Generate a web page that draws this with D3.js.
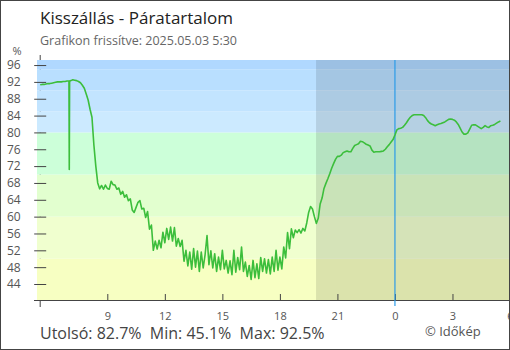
<!DOCTYPE html>
<html><head><meta charset="utf-8">
<script src="https://cdn.jsdelivr.net/npm/d3@7"></script>
<style>
body{margin:0;background:#fff}
svg{display:block;font-family:"Open Sans",sans-serif}
</style></head><body>
<svg id="chart" width="510" height="350"></svg>
<script>
// relative humidity (%), one reading every 6 minutes, 2025.05.02 5:30 -> 2025.05.03 5:30
const humidity = [
  91.3,91.4,91.4,91.5,91.6,91.6,91.7,91.8,91.9,92.0,92.0,92.0,92.1,92.1,92.2,92.2,92.3,92.5,92.4,92.3,
  92.1,91.8,91.2,90.5,89.1,87.7,85.5,83.6,77.0,72.0,68.0,66.6,67.4,66.5,67.5,66.7,66.5,68.4,67.6,67.5,
  66.5,66.8,65.3,66.0,64.6,65.2,63.8,64.2,61.6,61.0,62.2,63.4,63.8,61.8,62.0,59.8,61.2,57.0,58.0,52.0,
  54.2,52.3,54.4,52.6,56.3,53.8,57.2,54.6,57.5,54.2,57.4,53.0,54.8,52.9,54.4,49.4,52.0,48.3,51.6,47.5,
  52.4,48.0,51.8,47.0,51.6,47.8,51.0,55.5,48.6,51.9,47.8,51.2,47.0,50.4,47.4,52.0,47.6,49.6,46.6,49.5,
  46.2,52.0,46.8,50.3,47.4,52.8,47.0,49.2,45.8,48.4,45.1,49.6,45.5,48.8,45.3,50.3,47.0,50.0,46.6,49.8,
  46.4,50.4,47.0,52.0,47.3,50.4,47.6,52.8,50.2,56.2,52.4,57.1,55.0,56.8,56.2,56.9,56.1,57.2,56.6,58.5,
  61.0,62.4,61.8,60.0,58.4,59.6,63.0,64.4,66.7,67.9,69.0,70.2,71.5,72.6,73.6,74.3,74.3,74.6,75.2,75.4,
  75.6,75.4,75.4,76.2,76.9,77.1,77.3,77.9,77.8,77.5,77.2,77.0,76.8,75.8,75.3,75.4,75.4,75.4,75.5,75.6,
  76.0,76.6,77.1,77.7,78.3,79.4,80.6,80.9,81.0,81.2,81.7,82.3,83.0,83.6,84.0,84.2,84.2,84.2,84.2,84.2,
  84.0,83.5,82.8,82.3,82.0,81.8,81.6,81.8,82.0,82.1,82.3,82.5,82.8,83.1,83.2,83.1,82.9,82.5,81.9,81.0,
  80.1,79.6,79.6,79.9,80.8,81.7,81.8,81.8,81.5,81.2,80.9,81.2,81.6,81.3,81.2,81.6,81.7,81.9,82.2,82.5,
  82.7
];
const startTime = new Date(2025, 4, 2, 5, 30);
const stepMinutes = 6;
// short sensor glitch between the regular readings
const glitchTimes = [new Date(2025, 4, 2, 7, 1), new Date(2025, 4, 2, 7, 2)];
const glitchValues = [71.2, 92.2];
const xTickTimes = [
  new Date(2025, 4, 2, 9), new Date(2025, 4, 2, 12), new Date(2025, 4, 2, 15),
  new Date(2025, 4, 2, 18), new Date(2025, 4, 2, 21), new Date(2025, 4, 3, 0),
  new Date(2025, 4, 3, 3), new Date(2025, 4, 3, 6)
];
const yTicks = [44, 48, 52, 56, 60, 64, 68, 72, 76, 80, 84, 88, 92, 96];
const bandEdges = [40, 50, 60, 70, 80, 85, 90, 95, 100];
const bandColors = ["#f7ffc2", "#f0ffcf", "#e2ffcf", "#ccffd9", "#cceaff", "#c2e4ff", "#b9dfff", "#b0d8ff"];
const nightStart = new Date(2025, 4, 2, 19, 53);
const midnight = new Date(2025, 4, 3, 0, 0);

var data = humidity.map((v, i) => ({t: d3.timeMinute.offset(startTime, i * stepMinutes), v: v}));
glitchTimes.forEach((t, i) => data.push({t: t, v: glitchValues[i]}));
data.sort((a, b) => a.t - b.t);

var plot = {left: 37, right: 510, top: 60, bottom: 300};

var x = d3.scaleTime()
  .domain([new Date(2025, 4, 2, 5, 20), new Date(2025, 4, 3, 6, 0)])
  .range([plot.left, plot.right]);
var y = d3.scaleLinear()
  .domain([40.2, 97.2])
  .range([plot.bottom, plot.top]);

var svg = d3.select("#chart");

// y axis line, mostly hidden behind the plot background
svg.append("line")
  .attr("x1", x(startTime)).attr("x2", x(startTime))
  .attr("y1", 55).attr("y2", 307)
  .attr("stroke", "#444");

// coloured bands
var bands = d3.range(bandColors.length).map(i => ({lo: bandEdges[i], hi: bandEdges[i + 1], c: bandColors[i]}));
svg.append("g").selectAll("rect")
  .data(bands)
  .enter().append("rect")
    .attr("x", plot.left)
    .attr("width", plot.right - plot.left)
    .attr("y", d => Math.max(plot.top, y(d.hi)))
    .attr("height", d => Math.min(plot.bottom, y(d.lo)) - Math.max(plot.top, y(d.hi)))
    .attr("fill", d => d.c);

// night shading
svg.append("rect")
  .attr("x", x(nightStart))
  .attr("y", plot.top)
  .attr("width", plot.right - x(nightStart))
  .attr("height", plot.bottom - plot.top)
  .attr("fill", "#000")
  .attr("opacity", 0.11);

// y ticks and labels
var yAxis = svg.append("g")
  .attr("transform", "translate(" + (x(startTime) + 6) + ",0)")
  .call(d3.axisLeft(y).tickValues(yTicks).tickSize(12).tickPadding(13.5));
yAxis.select(".domain").remove();
yAxis.selectAll("line").attr("stroke", "#444");
yAxis.selectAll("text").attr("fill", "#555").style("font-size", "12px").style("font-family", "Open Sans");

svg.append("text")
  .attr("x", 21.5).attr("y", 55)
  .attr("text-anchor", "end")
  .attr("fill", "#555")
  .style("font-size", "11px")
  .text("%");

// x axis
var xAxis = svg.append("g")
  .attr("transform", "translate(0," + plot.bottom + ")")
  .call(d3.axisBottom(x).tickValues(xTickTimes).tickSize(-6).tickPadding(12).tickFormat(d3.timeFormat("%-H")));
xAxis.select(".domain").remove();
xAxis.selectAll("line").attr("stroke", "#444");
xAxis.selectAll("text").attr("fill", "#555").style("font-size", "11px").style("font-family", "Open Sans");
svg.append("line")
  .attr("x1", 34).attr("x2", plot.right)
  .attr("y1", plot.bottom + 0.5).attr("y2", plot.bottom + 0.5)
  .attr("stroke", "#444");

// midnight marker
svg.append("line")
  .attr("x1", x(midnight)).attr("x2", x(midnight))
  .attr("y1", plot.top).attr("y2", 306)
  .attr("stroke", "#2b9be8")
  .attr("stroke-width", 1.2);

// humidity line
var line = d3.line()
  .x(d => x(d.t))
  .y(d => y(d.v));
svg.append("path")
  .datum(data)
  .attr("d", line)
  .attr("fill", "none")
  .attr("stroke", "#3cbe3c")
  .attr("stroke-width", 1.6)
  .attr("stroke-linejoin", "round");

// titles
svg.append("text")
  .attr("x", 40).attr("y", 24)
  .attr("fill", "#222")
  .style("font-size", "17px")
  .text("Kisszállás - Páratartalom");
svg.append("text")
  .attr("x", 40).attr("y", 45)
  .attr("fill", "#666")
  .style("font-size", "12.5px")
  .text("Grafikon frissítve: 2025.05.03 5:30");

// stats
var last = humidity[humidity.length - 1];
var minV = d3.min(humidity), maxV = d3.max(humidity);
svg.append("text")
  .attr("x", 40).attr("y", 339)
  .attr("fill", "#444")
  .style("font-size", "16px")
  .style("white-space", "pre")
  .text("Utolsó: " + last.toFixed(1) + "%  Min: " + minV.toFixed(1) + "%  Max: " + maxV.toFixed(1) + "%");
svg.append("text")
  .attr("x", 425).attr("y", 336)
  .attr("fill", "#555")
  .style("font-size", "13px")
  .text("© Időkép");

// frame
svg.append("rect")
  .attr("x", 0.5).attr("y", 0.5)
  .attr("width", 509).attr("height", 349)
  .attr("fill", "none")
  .attr("stroke", "#444");
</script>
</body></html>
